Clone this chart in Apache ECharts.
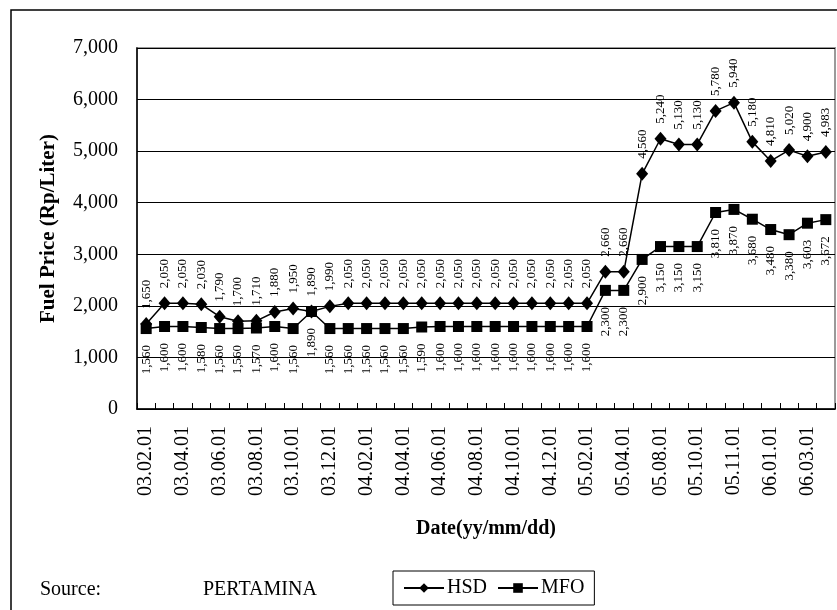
<!DOCTYPE html>
<html>
<head>
<meta charset="utf-8">
<script src="https://cdn.jsdelivr.net/npm/echarts@6/dist/echarts.min.js"></script>
<style>
  html, body { margin: 0; padding: 0; background: #fff; }
  #chart { width: 837px; height: 610px; }
</style>
</head>
<body>
<div id="chart"></div>
<script>
// Price dates (yy.mm.dd)
const dates = [
  '03.02.01','03.03.01','03.04.01','03.05.01','03.06.01','03.07.01','03.08.01','03.09.01',
  '03.10.01','03.11.01','03.12.01','04.01.01','04.02.01','04.03.01','04.04.01','04.05.01',
  '04.06.01','04.07.01','04.08.01','04.09.01','04.10.01','04.11.01','04.12.01','05.01.01',
  '05.02.01','05.03.01','05.04.01','05.07.01','05.08.01','05.09.01','05.10.01','05.10.15',
  '05.11.01','05.12.01','06.01.01','06.02.01','06.03.01','06.04.01'
];

// High Speed Diesel price (Rp/Liter)
const hsd = [
  1650, 2050, 2050, 2030, 1790, 1700, 1710, 1880, 1950, 1890, 1990,
  2050, 2050, 2050, 2050, 2050, 2050, 2050, 2050, 2050, 2050, 2050, 2050, 2050, 2050,
  2660, 2660, 4560, 5240, 5130, 5130, 5780, 5940, 5180, 4810, 5020, 4900, 4983
];

// Marine Fuel Oil price (Rp/Liter)
const mfo = [
  1560, 1600, 1600, 1580, 1560, 1560, 1570, 1600, 1560, 1890, 1560,
  1560, 1560, 1560, 1560, 1590, 1600, 1600, 1600, 1600, 1600, 1600, 1600, 1600, 1600,
  2300, 2300, 2900, 3150, 3150, 3150, 3810, 3870, 3680, 3480, 3380, 3603, 3672
];

const FONT = '"Liberation Serif", "Times New Roman", serif';
const fmt = v => Number(v).toLocaleString('en-US');

const chart = echarts.init(document.getElementById('chart'), null, { renderer: 'canvas' });

chart.setOption({
  animation: false,
  backgroundColor: '#fff',
  textStyle: { fontFamily: FONT, color: '#000' },
  grid: {
    left: 137, right: 2, top: 48, bottom: 201,
    show: true, borderColor: '#9a9a9a', borderWidth: 2, backgroundColor: 'transparent'
  },
  xAxis: {
    type: 'category',
    data: dates,
    boundaryGap: true,
    name: 'Date(yy/mm/dd)',
    nameLocation: 'middle',
    nameGap: 110,
    nameTextStyle: { fontFamily: FONT, fontSize: 20, fontWeight: 'bold', color: '#000' },
    axisLine: { lineStyle: { color: '#000', width: 1.5 } },
    axisTick: { show: true, inside: true, length: 6, interval: 0, lineStyle: { color: '#000' } },
    axisLabel: { interval: 1, rotate: 90, fontFamily: FONT, fontSize: 20, color: '#000', margin: 17 },
    splitLine: { show: false }
  },
  yAxis: {
    type: 'value',
    min: 0, max: 7000, interval: 1000,
    name: 'Fuel Price (Rp/Liter)',
    nameLocation: 'middle',
    nameGap: 78,
    nameTextStyle: { fontFamily: FONT, fontSize: 21, fontWeight: 'bold', color: '#000' },
    axisLine: { show: true, lineStyle: { color: '#000', width: 1.5 } },
    axisTick: { show: true, inside: true, length: 7, lineStyle: { color: '#000' } },
    axisLabel: { fontFamily: FONT, fontSize: 20, color: '#000', margin: 19, formatter: fmt },
    splitLine: { show: true, lineStyle: { color: '#000', width: 1 } }
  },
  legend: {
    left: 393, top: 571,
    orient: 'horizontal',
    padding: [7, 10],
    itemGap: 10,
    itemWidth: 40, itemHeight: 12,
    borderColor: '#000', borderWidth: 1,
    textStyle: { fontFamily: FONT, fontSize: 20, color: '#000', padding: [0, 0, 0, -2] },
    data: ['HSD', 'MFO']
  },
  series: [
    {
      name: 'HSD',
      type: 'line',
      data: hsd,
      showAllSymbol: true,
      symbol: 'diamond',
      symbolSize: [12, 14],
      lineStyle: { color: '#000', width: 1.5 },
      itemStyle: { color: '#000' },
      label: {
        show: true, position: 'top', distance: 8, rotate: 90,
        align: 'left', verticalAlign: 'middle',
        fontFamily: FONT, fontSize: 13, color: '#000',
        formatter: p => fmt(p.value)
      },
      z: 3
    },
    {
      name: 'MFO',
      type: 'line',
      data: mfo,
      showAllSymbol: true,
      symbol: 'rect',
      symbolSize: 11,
      lineStyle: { color: '#000', width: 1.5 },
      itemStyle: { color: '#000' },
      label: {
        show: true, position: 'bottom', distance: 11, rotate: 90,
        align: 'right', verticalAlign: 'middle',
        fontFamily: FONT, fontSize: 13, color: '#000',
        formatter: p => fmt(p.value)
      },
      z: 2
    }
  ],
  graphic: [
    {
      type: 'rect', silent: true, z: -1,
      shape: { x: 11, y: 10, width: 840, height: 620 },
      style: { fill: 'none', stroke: '#000', lineWidth: 1.5 }
    },
    {
      type: 'text', left: 40, top: 580,
      style: { text: 'Source:', font: '20px ' + FONT, fill: '#000' }
    },
    {
      type: 'text', left: 203, top: 580,
      style: { text: 'PERTAMINA', font: '20px ' + FONT, fill: '#000' }
    }
  ]
});
</script>
</body>
</html>
